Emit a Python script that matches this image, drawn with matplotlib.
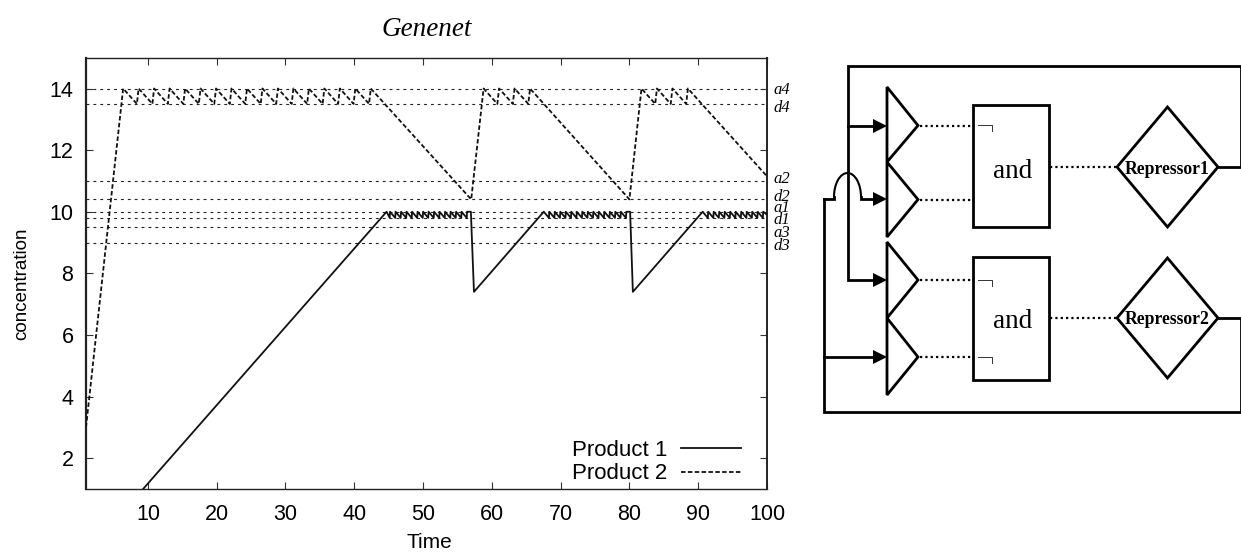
import matplotlib
matplotlib.use('Agg')
import matplotlib.pyplot as plt
from matplotlib.patches import Arc, Polygon, Rectangle

# Product 2 (dashed)
p2_time = [1, 6.4, 8.4, 8.65, 10.65, 10.9, 12.9, 13.15, 15.15, 15.4, 17.4, 17.65, 19.65, 19.9,
           21.9, 22.15, 24.15, 24.4, 26.4, 26.65, 28.65, 28.9, 30.9, 31.15, 33.15, 33.4,
           35.4, 35.65, 37.65, 37.9, 39.9, 40.15, 42.15, 42.4,
           57, 58.8, 60.8, 61.05, 63.05, 63.3, 65.3, 65.55,
           80, 81.75, 83.75, 84, 86, 86.25, 88.25, 88.5, 100]
p2_conc = [3, 14, 13.5, 14, 13.5, 14, 13.5, 14, 13.5, 14, 13.5, 14, 13.5, 14,
           13.5, 14, 13.5, 14, 13.5, 14, 13.5, 14, 13.5, 14, 13.5, 14,
           13.5, 14, 13.5, 14, 13.5, 14, 13.5, 14,
           10.4, 14, 13.5, 14, 13.5, 14, 13.5, 14,
           10.4, 14, 13.5, 14, 13.5, 14, 13.5, 14, 11.15]

# Product 1 (solid)
p1_time = [9.3, 44.7, 45.15, 45.2, 45.95, 46.0, 46.75, 46.8, 47.55, 47.6, 48.35, 48.4, 49.15, 49.2,
           49.95, 50.0, 50.75, 50.8, 51.55, 51.6, 52.35, 52.4, 53.15, 53.2, 53.95, 54.0,
           54.75, 54.8, 55.55, 55.6, 56.35, 56.4, 56.95, 57.4,
           67.55, 68.3, 68.35, 69.1, 69.15, 69.9, 69.95, 70.7, 70.75, 71.5, 71.55, 72.3, 72.35,
           73.1, 73.15, 73.9, 73.95, 74.7, 74.75, 75.5, 75.55, 76.3, 76.35, 77.1, 77.15,
           77.9, 77.95, 78.7, 78.75, 79.5, 79.55, 80.1, 80.5,
           90.65, 91.4, 91.45, 92.2, 92.25, 93.0, 93.05, 93.8, 93.85, 94.6, 94.65, 95.4, 95.45,
           96.2, 96.25, 97.0, 97.05, 97.8, 97.85, 98.6, 98.65, 99.4, 99.45, 100]
p1_conc = [1, 10, 9.8, 10, 9.8, 10, 9.8, 10, 9.8, 10, 9.8, 10, 9.8, 10,
           9.8, 10, 9.8, 10, 9.8, 10, 9.8, 10, 9.8, 10, 9.8, 10,
           9.8, 10, 9.8, 10, 9.8, 10, 10, 7.4,
           10, 9.8, 10, 9.8, 10, 9.8, 10, 9.8, 10, 9.8, 10, 9.8, 10,
           9.8, 10, 9.8, 10, 9.8, 10, 9.8, 10, 9.8, 10, 9.8, 10,
           9.8, 10, 9.8, 10, 9.8, 10, 10, 7.4,
           10, 9.8, 10, 9.8, 10, 9.8, 10, 9.8, 10, 9.8, 10, 9.8, 10,
           9.8, 10, 9.8, 10, 9.8, 10, 9.8, 10, 9.8, 10, 9.9]

# Threshold lines and their labels
threshold_values = [14, 13.5, 11, 10.4, 10, 9.8, 9.5, 9]
threshold_names = ['a4', 'd4', 'a2', 'd2', 'a1', 'd1', 'a3', 'd3']
threshold_label_y = [90, 108, 179, 197, 208, 220, 233, 246]

x_ticks = [10, 20, 30, 40, 50, 60, 70, 80, 90, 100]
y_ticks = [2, 4, 6, 8, 10, 12, 14]

# Circuit diagram, in picture pixels
triangles = [(87, 125.5, 162), (162, 199.5, 237), (242, 280, 318), (318, 357, 395)]
and_boxes = [(105, 227), (257, 380)]
and_text_y = [171, 321]
corner_y = [125, 280, 357]
repressors = [('Repressor1', 107, 167, 227), ('Repressor2', 258, 318, 378)]
wires = [[(848, 126), (848, 66), (1241, 66), (1241, 167), (1218, 167)],
         [(848, 126), (848, 280), (875, 280)],
         [(848, 126), (875, 126)],
         [(824, 199), (834, 199), (834, 197)],
         [(861, 197), (861, 199), (875, 199)],
         [(824, 199), (824, 412), (1241, 412), (1241, 318), (1218, 318)],
         [(824, 357), (875, 357)]]
arrow_y = [126, 199, 280, 357]

WIDTH, HEIGHT = 1241, 553
AX_LEFT, AX_RIGHT, AX_TOP, AX_BOTTOM = 86, 767, 57.7, 489

plt.rcParams['font.family'] = ['Liberation Sans']
fig = plt.figure(figsize=(WIDTH / 100, HEIGHT / 100), dpi=100)
ax = fig.add_axes([AX_LEFT / WIDTH, 1 - AX_BOTTOM / HEIGHT,
                   (AX_RIGHT - AX_LEFT) / WIDTH, (AX_BOTTOM - AX_TOP) / HEIGHT])

for value in threshold_values:
    ax.axhline(value, color='#222222', lw=0.8, dashes=(2.6, 3.6), zorder=1)

ax.plot(p1_time, p1_conc, color='#111111', lw=1.3, label='Product 1', zorder=3)
ax.plot(p2_time, p2_conc, color='#111111', lw=1.3, dashes=(2.5, 1.3), label='Product 2', zorder=3)

ax.set_xlim(1, 100)
ax.set_ylim(1, 15)
ax.set_xticks(x_ticks)
ax.set_yticks(y_ticks)
ax.tick_params(direction='in', length=5, width=0.8, top=True, right=True, labelsize=15.5, color='#333333')
ax.tick_params(axis='x', pad=11)
ax.tick_params(axis='y', pad=9)
for side in ax.spines.values():
    side.set_linewidth(1.0)
    side.set_color('#222222')
ax.spines['left'].set_linewidth(1.6)
ax.spines['right'].set_linewidth(1.4)

fig.text(427 / WIDTH, 1 - 29 / HEIGHT, 'Genenet', family='Liberation Serif', style='italic',
         fontsize=19.5, ha='center', va='center')
fig.text(429 / WIDTH, 1 - 543 / HEIGHT, 'Time', fontsize=15, ha='center', va='center')
fig.text(22 / WIDTH, 1 - 284 / HEIGHT, 'concentration', fontsize=13.5, rotation=90, ha='center', va='center')

ax.legend(loc='lower right', bbox_to_anchor=((748 - AX_LEFT) / (AX_RIGHT - AX_LEFT), -0.005), frameon=False,
          markerfirst=False, fontsize=16, handlelength=2.7, handletextpad=0.65,
          labelspacing=0.1, borderpad=0.3, borderaxespad=0)

# Overlay in picture pixels for the diagram and the right-hand labels
over = fig.add_axes([0, 0, 1, 1])
over.set_xlim(0, WIDTH)
over.set_ylim(HEIGHT, 0)
over.axis('off')
over.patch.set_alpha(0)

for name, y in zip(threshold_names, threshold_label_y):
    over.text(773, y, name, family='Liberation Serif', style='italic', fontsize=12, ha='left', va='center')

LW = 2
for path in wires:
    over.plot([p[0] for p in path], [p[1] for p in path], color='black', lw=LW, solid_joinstyle='miter')
over.add_patch(Arc((847.5, 197), 27, 48, theta1=180, theta2=360, color='black', lw=1.5))

for y in arrow_y:
    over.add_patch(Polygon([(873, y - 7), (887, y), (873, y + 7)], color='black', lw=0))

for top, mid, bottom in triangles:
    over.add_patch(Polygon([(887, top), (918, mid), (887, bottom)], fill=False, ec='black', lw=LW, joinstyle='miter'))
    over.plot([920, 972], [mid, mid], color='black', lw=1.6, dashes=(1, 1.4))

for (top, bottom), text_y in zip(and_boxes, and_text_y):
    over.add_patch(Rectangle((972.5, top), 76.5, bottom - top, fill=False, ec='black', lw=LW))
    over.text(1012.5, text_y, 'and', family='Liberation Serif', fontsize=19.5, ha='center', va='center')

for y in corner_y:
    over.plot([977.5, 991.5, 991.5], [y, y, y + 6], color='#333333', lw=0.7)

for name, top, mid, bottom in repressors:
    over.add_patch(Polygon([(1117, mid), (1167.5, top), (1218, mid), (1167.5, bottom)], fill=False, ec='black', lw=LW))
    over.plot([1050, 1116], [mid, mid], color='black', lw=1.6, dashes=(1, 1.4))
    over.text(1167.5, mid + 2, name, family='Liberation Serif', weight='bold', fontsize=12.7, ha='center', va='center')

fig.savefig('out.png', dpi=100)
